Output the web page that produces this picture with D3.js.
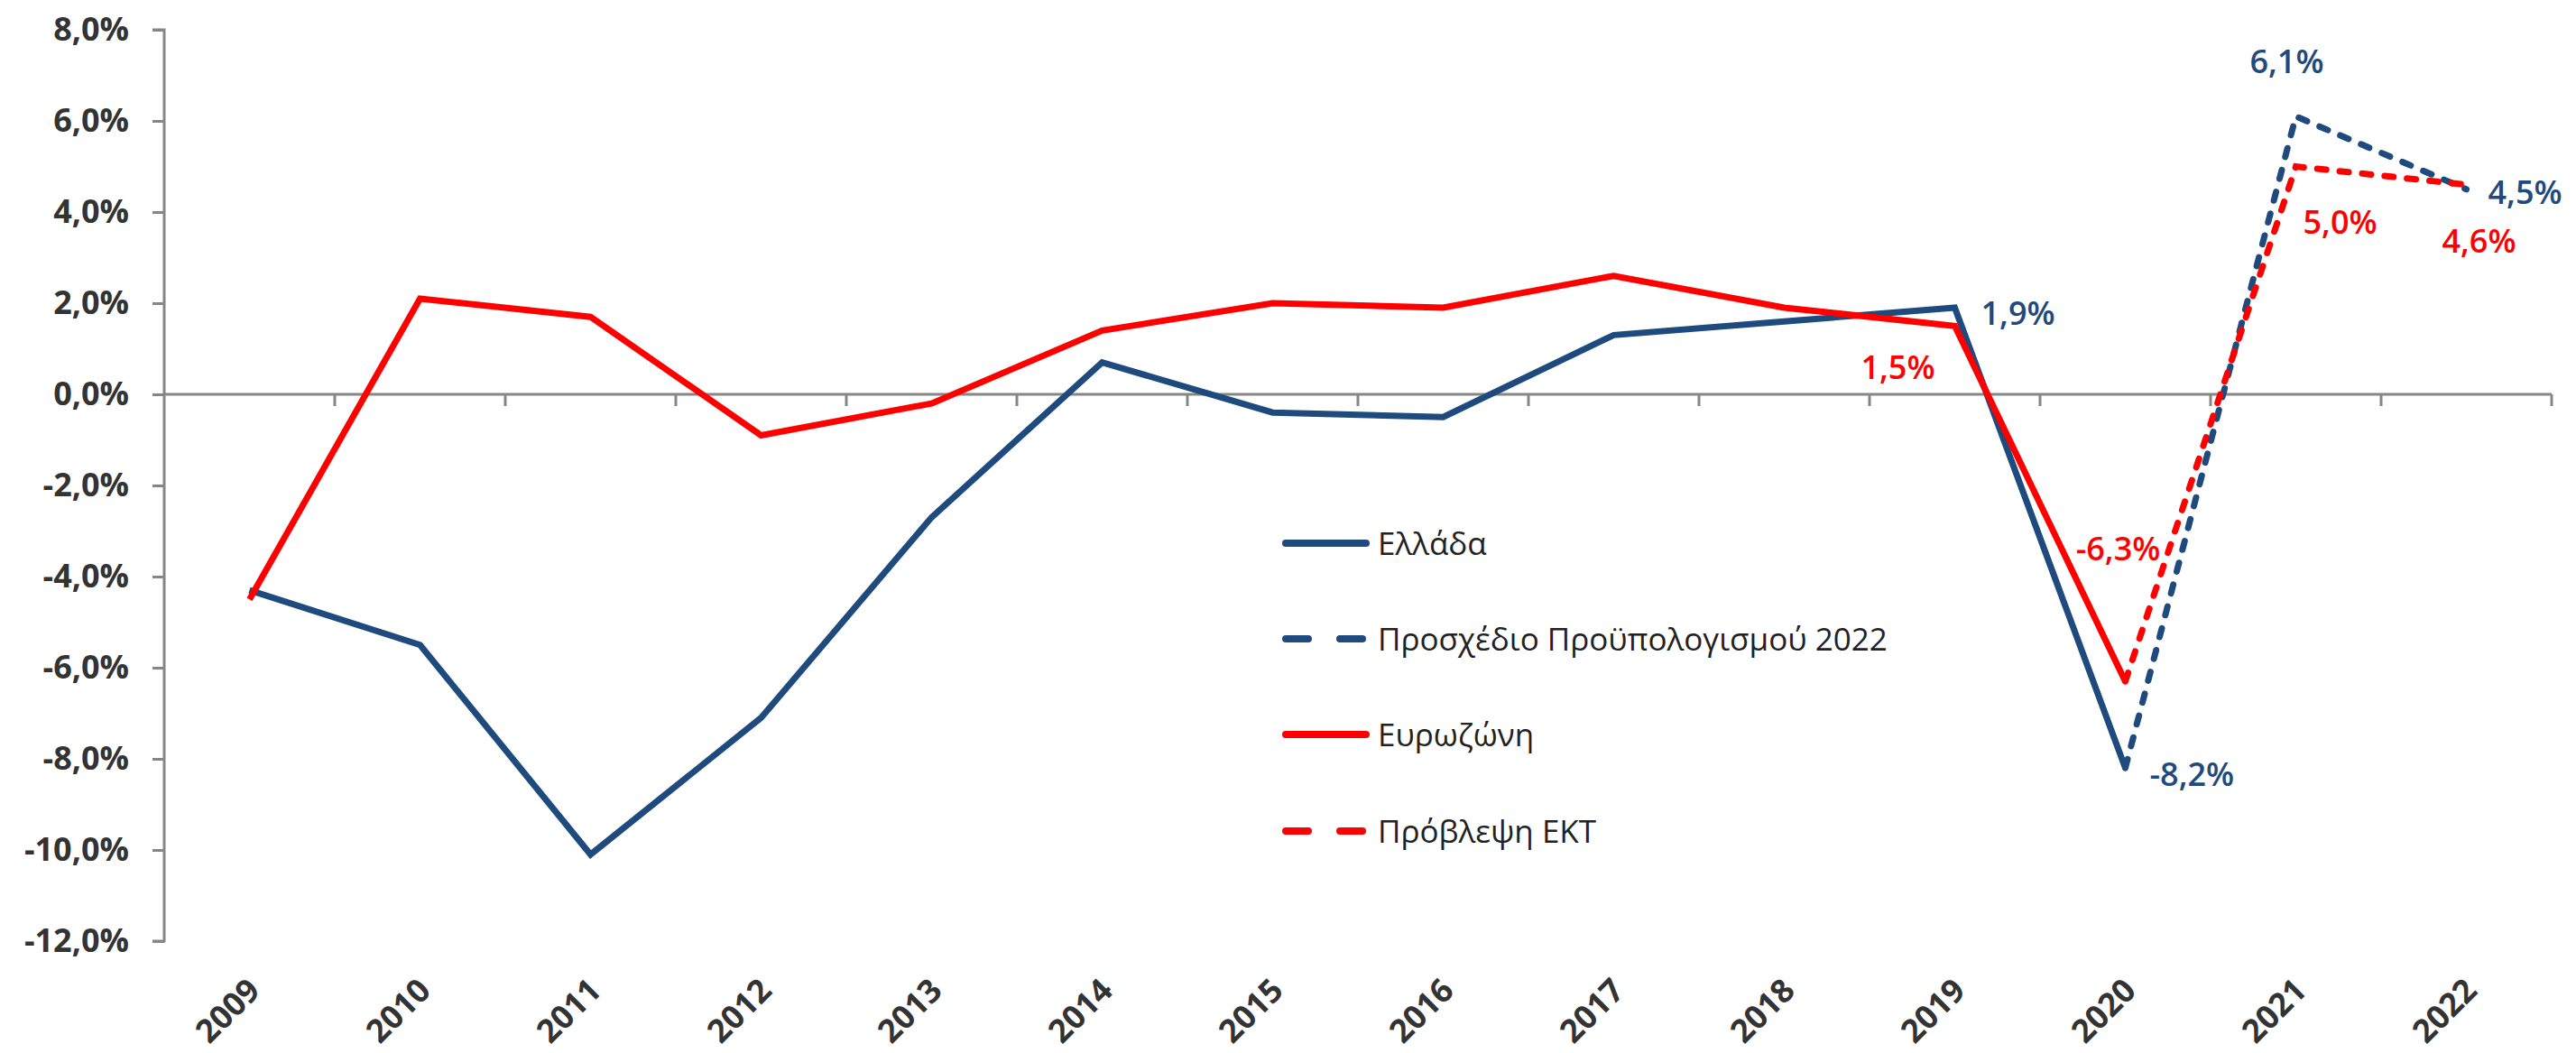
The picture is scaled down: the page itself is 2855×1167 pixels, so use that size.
<!DOCTYPE html>
<html>
<head>
<meta charset="utf-8">
<script src="https://cdn.jsdelivr.net/npm/d3@7"></script>
<style>
  html, body { margin: 0; padding: 0; background: #fff; }
  svg { display: block; font-family: 'Open Sans', 'Noto Sans', sans-serif; }
</style>
</head>
<body>
<svg id="chart" width="2855" height="1167"></svg>
<script>
// Real GDP growth, %
const years = ['2009', '2010', '2011', '2012', '2013', '2014', '2015', '2016', '2017', '2018', '2019', '2020', '2021', '2022'];
const yTicks = [-12, -10, -8, -6, -4, -2, 0, 2, 4, 6, 8];

const greeceYears = years.slice(0, 12);
const greece = [-4.3, -5.5, -10.1, -7.1, -2.7, 0.7, -0.4, -0.5, 1.3, 1.6, 1.9, -8.2];
const budgetYears = ['2020', '2021', '2022'];
const greeceBudget = [-8.2, 6.1, 4.5];

const euroYears = years.slice(0, 12);
const eurozone = [-4.5, 2.1, 1.7, -0.9, -0.2, 1.4, 2.0, 1.9, 2.6, 1.9, 1.5, -6.3];
const ecbYears = ['2020', '2021', '2022'];
const ecbForecast = [-6.3, 5.0, 4.6];

const legendNames = ['Ελλάδα', 'Προσχέδιο Προϋπολογισμού 2022', 'Ευρωζώνη', 'Πρόβλεψη ΕΚΤ'];

const color = { blue: '#1f4a7e', red: '#ff0000', axis: '#868686', text: '#333333' };
const fmt = (v) => v.toFixed(1).replace('.', ',') + '%';

const svg = d3.select('#chart');

const x = d3.scaleBand().domain(years).range([182, 2828]).padding(0);
const y = d3.scaleLinear().domain([-12, 8]).range([1043, 33]);
const cx = (yr) => x(yr) + x.bandwidth() / 2;

// Y axis
const yAxis = svg.append('g')
  .attr('transform', 'translate(182,0)')
  .call(d3.axisLeft(y).tickValues(yTicks).tickSize(13).tickPadding(26)
    .tickFormat((d) => fmt(d)));
yAxis.select('.domain').attr('stroke', color.axis).attr('stroke-width', 3)
  .attr('d', `M-13,${y(8)}H0V${y(-12)}H-13`);
yAxis.selectAll('.tick line').attr('stroke', color.axis).attr('stroke-width', 3);
yAxis.selectAll('.tick text')
  .attr('fill', color.text)
  .attr('font-size', 36)
  .attr('font-weight', 700)
  .attr('font-family', "'Open Sans', sans-serif");

// X axis at zero, ticks at category boundaries
const xAxis = svg.append('g');
xAxis.append('line')
  .attr('x1', 182).attr('x2', 2828)
  .attr('y1', y(0)).attr('y2', y(0))
  .attr('stroke', color.axis).attr('stroke-width', 3);
xAxis.selectAll('line.tick')
  .data(years)
  .join('line')
  .attr('class', 'tick')
  .attr('x1', (d) => x(d) + x.bandwidth()).attr('x2', (d) => x(d) + x.bandwidth())
  .attr('y1', y(0)).attr('y2', y(0) + 13)
  .attr('stroke', color.axis).attr('stroke-width', 3);

// Year labels, rotated
svg.append('g').selectAll('text')
  .data(years)
  .join('text')
  .attr('transform', (d) => `translate(${cx(d) - 4},${1082}) rotate(-45)`)
  .attr('text-anchor', 'end')
  .attr('dy', '0.7em')
  .attr('fill', color.text)
  .attr('font-size', 36)
  .attr('font-weight', 700)
  .text((d) => d);

// Lines
const line = d3.line().x((d) => cx(d[0])).y((d) => y(d[1]));
const series = [
  { yrs: greeceYears, vals: greece, stroke: color.blue, dash: null },
  { yrs: budgetYears, vals: greeceBudget, stroke: color.blue, dash: '10,15' },
  { yrs: euroYears, vals: eurozone, stroke: color.red, dash: null },
  { yrs: ecbYears, vals: ecbForecast, stroke: color.red, dash: '10,15' }
];
svg.append('g').selectAll('path')
  .data(series)
  .join('path')
  .attr('d', (s) => line(d3.zip(s.yrs, s.vals)))
  .attr('fill', 'none')
  .attr('stroke', (s) => s.stroke)
  .attr('stroke-width', 7)
  .attr('stroke-linejoin', 'miter')
  .attr('stroke-linecap', (s) => (s.dash ? 'round' : 'butt'))
  .attr('stroke-dasharray', (s) => s.dash);

// Data labels (offsets from the point)
const labels = [
  { yr: '2019', v: greece[10], c: color.blue, dx: 29, dy: 6, anchor: 'start' },
  { yr: '2020', v: greeceBudget[0], c: color.blue, dx: 27, dy: 7, anchor: 'start' },
  { yr: '2021', v: greeceBudget[1], c: color.blue, dx: -10, dy: -61, anchor: 'middle' },
  { yr: '2022', v: greeceBudget[2], c: color.blue, dx: 24, dy: 3, anchor: 'start' },
  { yr: '2019', v: eurozone[10], c: color.red, dx: -22, dy: 46, anchor: 'end' },
  { yr: '2020', v: ecbForecast[0], c: color.red, dx: -8, dy: -147, anchor: 'middle' },
  { yr: '2021', v: ecbForecast[1], c: color.red, dx: 8, dy: 62, anchor: 'start' },
  { yr: '2022', v: ecbForecast[2], c: color.red, dx: 14, dy: 62, anchor: 'middle' }
];
svg.append('g').selectAll('text')
  .data(labels)
  .join('text')
  .attr('x', (d) => cx(d.yr) + d.dx)
  .attr('y', (d) => y(d.v) + d.dy)
  .attr('dy', '0.36em')
  .attr('text-anchor', (d) => d.anchor)
  .attr('fill', (d) => d.c)
  .attr('font-size', 36)
  .attr('font-weight', 600)
  .text((d) => fmt(d.v));

// Legend
const legend = svg.append('g').attr('transform', 'translate(1425,0)');
const rowY = [602, 708, 814, 921];
const legendItems = legendNames.map((name, i) => ({ name, s: series[i], ly: rowY[i] }));
const item = legend.selectAll('g')
  .data(legendItems)
  .join('g')
  .attr('transform', (d) => `translate(0,${d.ly})`);
item.append('line')
  .attr('x1', 0).attr('x2', (d) => (d.s.dash ? 85 : 89))
  .attr('stroke', (d) => d.s.stroke)
  .attr('stroke-width', 8)
  .attr('stroke-linecap', 'round')
  .attr('stroke-dasharray', (d) => (d.s.dash ? '25,35' : null));
item.append('text')
  .attr('x', 102)
  .attr('dy', '0.36em')
  .attr('fill', '#222')
  .attr('font-size', 35)
  .text((d) => d.name);
</script>
</body>
</html>
